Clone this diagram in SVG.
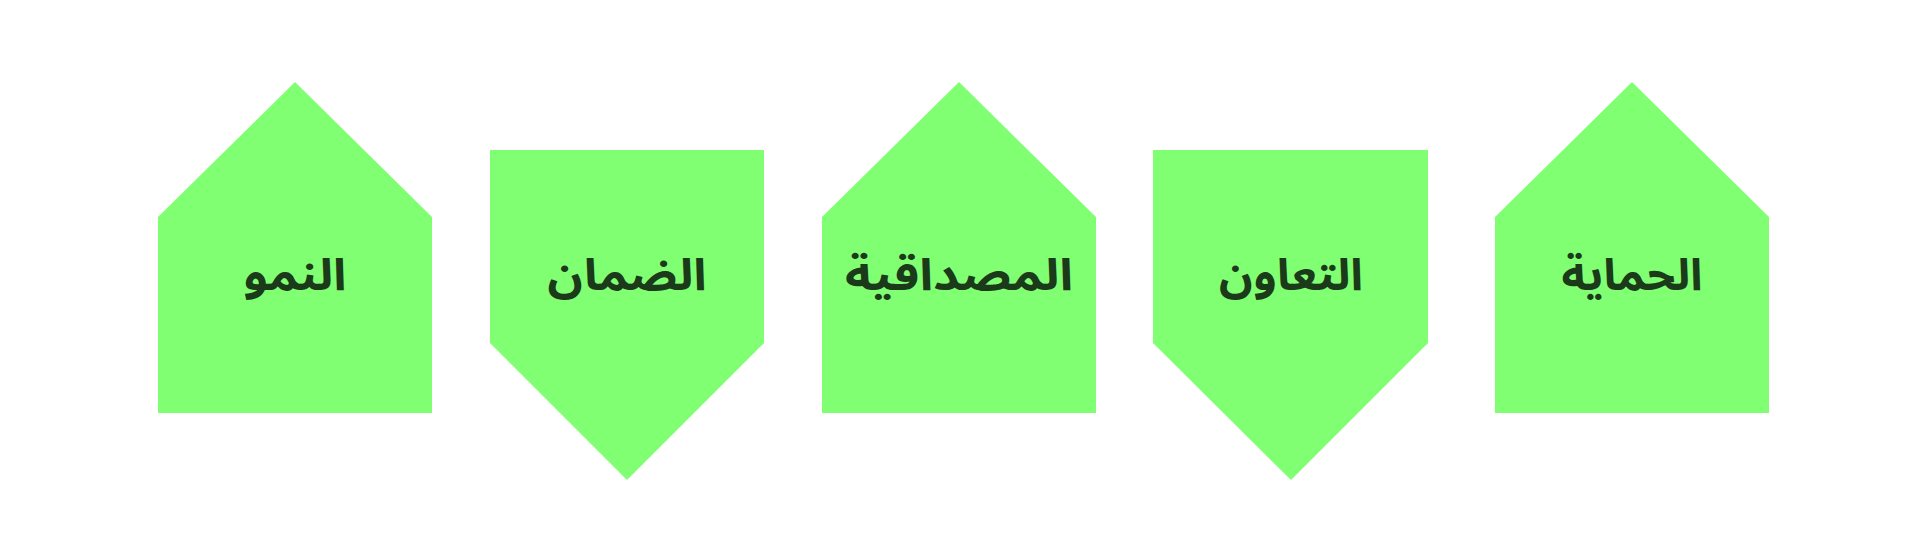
<svg xmlns="http://www.w3.org/2000/svg" width="1920" height="558" viewBox="0 0 1920 558">
<style>
.shape{fill:#80ff72;stroke:none}
.lbl{font-family:"Noto Sans Arabic","Noto Sans","DejaVu Sans",sans-serif;font-weight:700;font-size:44px;fill:#1a3a1a;text-anchor:middle;dominant-baseline:central}
</style>
<rect width="1920" height="558" fill="#ffffff"/>
<g id="connectors"></g>
<g id="node-growth">
<polygon class="shape" points="158,217 295,82 432,217 432,413 158,413"/>
<text class="lbl" x="295" y="276" direction="rtl" textLength="103" lengthAdjust="spacingAndGlyphs">النمو</text>
</g>
<g id="node-guarantee">
<polygon class="shape" points="490,150 764,150 764,343 627,480 490,343"/>
<text class="lbl" x="627" y="276" direction="rtl" textLength="159" lengthAdjust="spacingAndGlyphs">الضمان</text>
</g>
<g id="node-credibility">
<polygon class="shape" points="822,217 959,82 1096,217 1096,413 822,413"/>
<text class="lbl" x="959" y="276" direction="rtl" textLength="228" lengthAdjust="spacingAndGlyphs">المصداقية</text>
</g>
<g id="node-cooperation">
<polygon class="shape" points="1153,150 1428,150 1428,343 1291,480 1153,343"/>
<text class="lbl" x="1291" y="276" direction="rtl" textLength="144" lengthAdjust="spacingAndGlyphs">التعاون</text>
</g>
<g id="node-protection">
<polygon class="shape" points="1495,217 1632,82 1769,217 1769,413 1495,413"/>
<text class="lbl" x="1632" y="276" direction="rtl" textLength="141" lengthAdjust="spacingAndGlyphs">الحماية</text>
</g>
</svg>
